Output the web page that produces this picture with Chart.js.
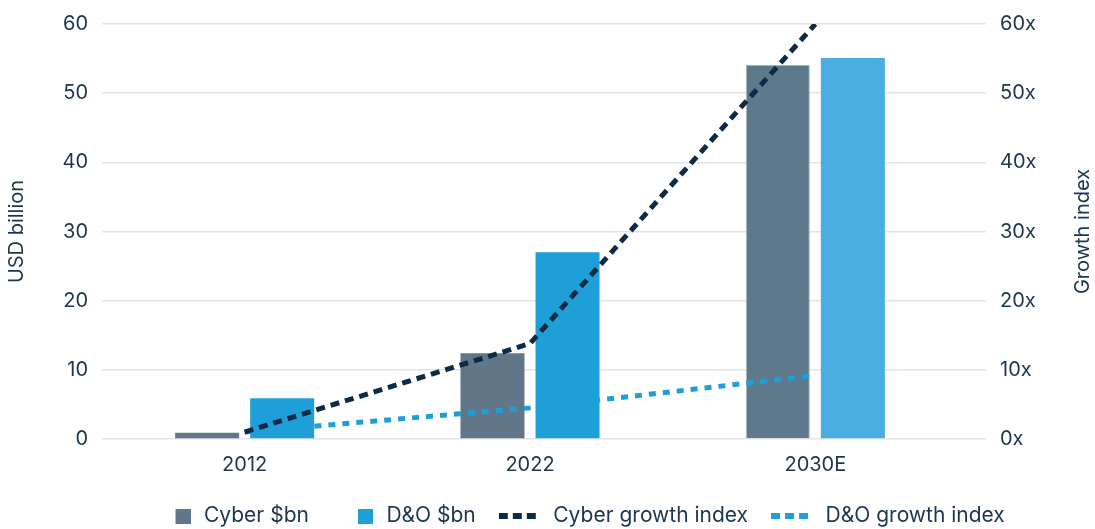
<!DOCTYPE html>
<html><head><meta charset="utf-8">
<script src="https://cdn.jsdelivr.net/npm/chart.js@4.4.1/dist/chart.umd.min.js"></script>
<style>html,body{margin:0;padding:0;background:#fff;}</style>
</head><body>
<canvas id="c" width="1095" height="529" style="width:1095px;height:529px;display:block"></canvas>
<script>
// ---- data ----
const categories = ['2012', '2022', '2030E'];
const cyberBn = [0.9, 12.4, 54.1];
const doBn = [5.9, 27.0, 55.1];
const cyberGrowth = [1, 13.8, 60];
const doGrowth = [1, 4.5, 9.2];
const seriesNames = ['Cyber $bn', 'D&O $bn', 'Cyber growth index', 'D&O growth index'];
const axisTitles = ['USD billion', 'Growth index'];
const tickSuffix = 'x';

// ---- styles ----
const TEXT = '#1c3550';
const GRID = '#e4e4e4';
const CYBER = '#617789';
const DO = '#1f9fd8';
const DO_EST = '#4aaee0';
const NAVY = '#0d2b45';
const FONT = 'Inter';
const FS = 20;
const LFS = 21;

Chart.defaults.font.family = FONT;
Chart.defaults.font.size = FS;
Chart.defaults.color = TEXT;

const LW = 50, LP = 17; // legend box width / padding

function rectMarker(color) {
  const c = document.createElement('canvas');
  c.width = 44; c.height = 15;
  const g = c.getContext('2d');
  g.fillStyle = color; g.fillRect(29, 0, 15, 15);
  return c;
}
function dashMarker(color) {
  const c = document.createElement('canvas');
  c.width = 38; c.height = 6;
  const g = c.getContext('2d');
  g.fillStyle = color;
  [0, 14, 28].forEach(x => g.fillRect(x, 0, 9, 6));
  return c;
}
const markers = [rectMarker(CYBER), rectMarker(DO), dashMarker(NAVY), dashMarker(DO)];

const legendPlace = {
  id: 'legendPlace',
  afterLayout(chart) {
    const lg = chart.legend;
    if (!lg || !lg.lineWidths) return;
    const cur = (lg.left + LP + lg.right - lg.lineWidths[0]) / 2;
    const want = 204 - LW - LFS / 2;
    const dx = want - cur;
    lg.left += dx; lg.right += dx;
    const dy = 516 - (lg.top + LP + LFS / 2);
    lg.top += dy; lg.bottom += dy;
  }
};

const rightTitle = {
  id: 'rightTitle',
  afterDraw(chart) {
    const {ctx, chartArea} = chart;
    ctx.save();
    ctx.translate(1083, (chartArea.top + chartArea.bottom) / 2);
    ctx.rotate(-Math.PI / 2);
    ctx.font = FS + 'px ' + FONT;
    ctx.fillStyle = TEXT;
    ctx.textAlign = 'center';
    ctx.textBaseline = 'middle';
    ctx.fillText(axisTitles[1], 0, 0);
    ctx.restore();
  }
};

new Chart(document.getElementById('c'), {
  data: {
    labels: categories,
    datasets: [
      { type: 'bar', label: seriesNames[0], data: cyberBn, yAxisID: 'y', order: 2,
        backgroundColor: [CYBER, CYBER, '#5f798c'], borderColor: ['rgba(0,0,0,0)', 'rgba(0,0,0,0)', '#a9b6c0'],
        borderWidth: [0, 0, 1], barPercentage: 0.853, categoryPercentage: 0.526 },
      { type: 'bar', label: seriesNames[1], data: doBn, yAxisID: 'y', order: 3,
        backgroundColor: [DO, DO, DO_EST], borderWidth: 0, barPercentage: 0.853, categoryPercentage: 0.526 },
      { type: 'line', label: seriesNames[2], data: cyberGrowth, yAxisID: 'y1', order: 0,
        borderColor: NAVY, backgroundColor: NAVY, borderWidth: 5, borderDash: [9, 6],
        pointRadius: 0, fill: false, tension: 0 },
      { type: 'line', label: seriesNames[3], data: doGrowth, yAxisID: 'y1', order: 1,
        borderColor: DO, backgroundColor: DO, borderWidth: 5, borderDash: [7, 7],
        pointRadius: 0, fill: false, tension: 0 }
    ]
  },
  options: {
    responsive: false,
    animation: false,
    devicePixelRatio: 1,
    layout: { padding: { top: 24, left: 0, right: 0, bottom: 0 } },
    plugins: {
      tooltip: { enabled: false },
      legend: {
        position: 'bottom',
        labels: {
          usePointStyle: true, pointStyleWidth: LW, padding: LP, color: TEXT,
          font: { size: LFS },
          sort: (a, b) => a.datasetIndex - b.datasetIndex,
          generateLabels(chart) {
            const items = Chart.defaults.plugins.legend.labels.generateLabels(chart);
            items.forEach(it => { it.pointStyle = markers[it.datasetIndex]; it.lineWidth = 0; });
            return items;
          }
        }
      }
    },
    scales: {
      x: {
        grid: { display: false, drawTicks: false }, border: { display: false },
        ticks: { padding: 14, color: TEXT },
        afterFit: s => { s.height = 42; }
      },
      y: {
        position: 'left', min: 0, max: 60,
        ticks: { stepSize: 10, padding: 14, color: TEXT, font: { size: FS, lineHeight: 1 } },
        grid: { color: GRID, lineWidth: 1.5, drawTicks: false }, border: { display: false },
        title: { display: true, text: axisTitles[0], color: TEXT, font: { size: FS }, padding: { top: 5, bottom: 0 } },
        afterFit: s => { s.width = 102; }
      },
      y1: {
        position: 'right', min: 0, max: 60,
        ticks: { stepSize: 10, padding: 14, color: TEXT, font: { size: FS, lineHeight: 1 }, callback: v => v + tickSuffix },
        grid: { drawOnChartArea: false, drawTicks: true, tickLength: 28, color: GRID, lineWidth: 1.5 },
        border: { display: false },
        afterFit: s => { s.width = 137; }
      }
    }
  },
  plugins: [legendPlace, rightTitle]
});
</script>
</body></html>
